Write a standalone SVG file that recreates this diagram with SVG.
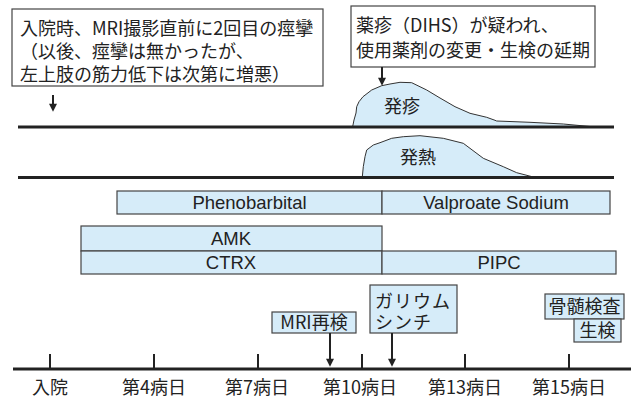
<svg xmlns="http://www.w3.org/2000/svg" width="637" height="399" viewBox="0 0 637 399">
<style>
.t{font-family:"Noto Sans CJK JP","Liberation Sans",sans-serif;font-size:18px;fill:#222}
.l{font-family:"Liberation Sans","Noto Sans CJK JP",sans-serif;font-size:18.5px;fill:#222}
.c{text-anchor:middle}
.note{fill:#fff;stroke:#444;stroke-width:1.2}
.bar{fill:#d6ecf9;stroke:#444;stroke-width:1.2}
.shape{fill:#d6ecf9;stroke:#333;stroke-width:1}
.base{stroke:#222;stroke-width:2.8;fill:none}
.arr{stroke:#222;stroke-width:2;fill:none;marker-end:url(#ah)}
.tick{stroke:#222;stroke-width:2}
</style>
<defs>
<marker id="ah" viewBox="0 0 10 10" refX="6" refY="5" markerWidth="9" markerHeight="8" markerUnits="userSpaceOnUse" orient="auto">
<path d="M0,0 L10,5 L0,10 z" fill="#222"/>
</marker>
</defs>
<rect width="637" height="399" fill="#fff"/>

<g id="note-admission">
<rect class="note" x="12" y="9" width="311" height="77"/>
<text class="t"><tspan x="20" y="35">入院時、MRI撮影直前に2回目の痙攣</tspan><tspan x="20" y="58">（以後、痙攣は無かったが、</tspan><tspan x="20" y="81">左上肢の筋力低下は次第に増悪）</tspan></text>
</g>

<g id="note-dihs">
<rect class="note" x="351" y="6" width="244" height="61"/>
<text class="t"><tspan x="356" y="32">薬疹（DIHS）が疑われ、</tspan><tspan x="356" y="57">使用薬剤の変更・生検の延期</tspan></text>
</g>

<g id="rash">
<path class="shape" d="M352.7,126.5 L354,120 L356,113 L356.7,106.7 L359,101.7 L363,96.7 L371.7,90 L381.7,85.7 L390,84 L400,82.3 L411.7,82.7 L426.7,90 L440,98 L455,106.7 L470,113.3 L486.7,117.3 L495,120.3 L496.7,121 L530,122.3 L563.3,124 L590,126.5 Z"/>
<text class="t c" x="402" y="113">発疹</text>
</g>

<g id="fever">
<path class="shape" d="M362.3,177 L363.3,166.7 L365,156.7 L366.7,150 L373.3,145 L380,142.7 L391.7,138.3 L403.3,136.7 L420,135.7 L443.3,138.3 L463.3,143.3 L483.3,158.3 L503.3,166.7 L516.7,172.7 L533.3,177 Z"/>
<text class="t c" x="418" y="164">発熱</text>
</g>

<g id="baselines">
<line class="base" x1="18" y1="127" x2="614" y2="127"/>
<line class="base" x1="18" y1="177.5" x2="614" y2="177.5"/>
</g>

<g id="anticonvulsants">
<rect class="bar" x="117" y="191" width="265" height="23"/>
<rect class="bar" x="382" y="191" width="228" height="23"/>
<text class="l c" x="249.5" y="209">Phenobarbital</text>
<text class="l c" x="496" y="209">Valproate Sodium</text>
</g>

<g id="antibiotics">
<rect class="bar" x="81" y="226" width="301" height="25"/>
<rect class="bar" x="81" y="251" width="301" height="23"/>
<rect class="bar" x="382" y="251" width="234" height="23"/>
<text class="l c" x="231" y="245">AMK</text>
<text class="l c" x="231" y="269">CTRX</text>
<text class="l c" x="499" y="269">PIPC</text>
</g>

<g id="mri">
<rect class="bar" x="272" y="312" width="84" height="21"/>
<text class="t c" x="314" y="329">MRI再検</text>
</g>

<g id="gallium">
<rect class="bar" x="370" y="285" width="87" height="48"/>
<text class="t" letter-spacing="1"><tspan x="375" y="308">ガリウム</tspan><tspan x="375" y="329">シンチ</tspan></text>
</g>

<g id="marrow">
<rect class="bar" x="545" y="294" width="79" height="25"/>
<text class="t c" x="584.5" y="313">骨髄検査</text>
</g>

<g id="biopsy">
<rect class="bar" x="574" y="319" width="47" height="23"/>
<text class="t c" x="597.5" y="337">生検</text>
</g>

<g id="timeline">
<line class="base" x1="13" y1="369" x2="631" y2="369"/>
<line class="tick" x1="50" y1="354" x2="50" y2="369"/>
<line class="tick" x1="154" y1="354" x2="154" y2="369"/>
<line class="tick" x1="258" y1="354" x2="258" y2="369"/>
<line class="tick" x1="362" y1="354" x2="362" y2="369"/>
<line class="tick" x1="465" y1="354" x2="465" y2="369"/>
<line class="tick" x1="569" y1="354" x2="569" y2="369"/>
<text class="t c" x="50" y="394">入院</text>
<text class="t c" x="154" y="394">第4病日</text>
<text class="t c" x="257" y="394">第7病日</text>
<text class="t c" x="360" y="394">第10病日</text>
<text class="t c" x="465" y="394">第13病日</text>
<text class="t c" x="569" y="394">第15病日</text>
</g>

<g id="connectors">
<line class="arr" x1="53" y1="95" x2="53" y2="108.5"/>
<line class="arr" x1="382" y1="67" x2="382" y2="82.5"/>
<line class="arr" x1="330" y1="333" x2="330" y2="363.5"/>
<line class="arr" x1="392" y1="333" x2="392" y2="363.5"/>
</g>
</svg>
